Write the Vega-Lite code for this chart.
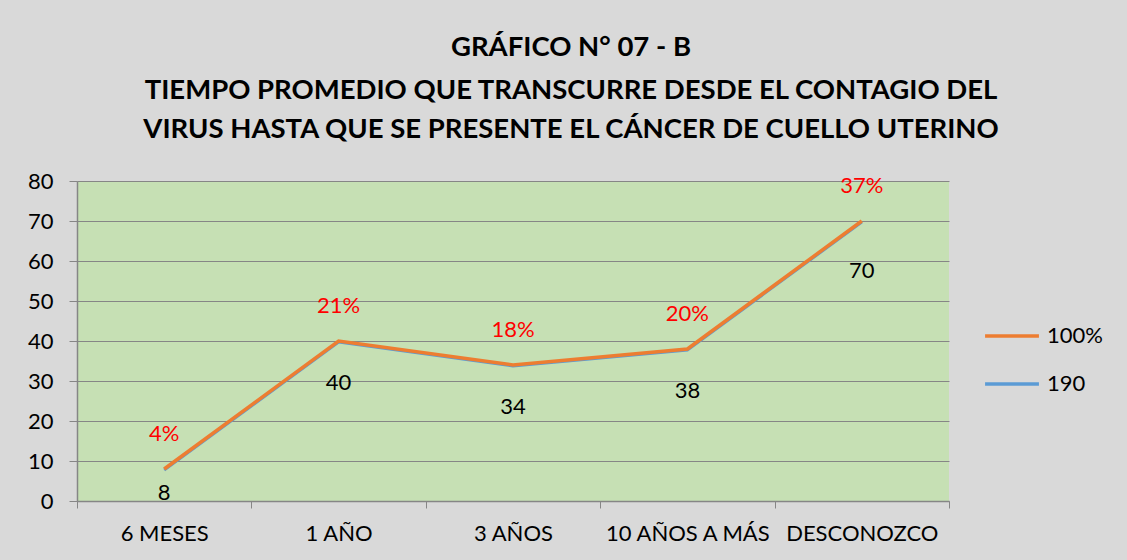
{
  "$schema": "https://vega.github.io/schema/vega-lite/v6.json",
  "autosize": {"type": "none"},
  "width": 872,
  "height": 320,
  "padding": {"left": 77, "top": 181, "right": 178, "bottom": 59},
  "background": "#d9d9d9",
  "title": {
    "text": "GRÁFICO N° 07 - B",
    "subtitle": ["TIEMPO PROMEDIO QUE TRANSCURRE DESDE EL CONTAGIO DEL", "VIRUS HASTA QUE SE PRESENTE EL CÁNCER DE CUELLO UTERINO"],
    "anchor": "middle",
    "frame": "group",
    "dx": 58,
    "offset": 27,
    "font": "Lato",
    "fontSize": 27.5,
    "fontWeight": "bold",
    "color": "#000000",
    "subtitleFont": "Lato",
    "subtitleFontSize": 27.5,
    "subtitleFontWeight": "bold",
    "subtitleColor": "#000000",
    "subtitleLineHeight": 39,
    "subtitlePadding": 15
  },
  "data": {
    "values": [
      {"cat": "6 MESES", "series": "190", "value": 8, "pct": "4%"},
      {"cat": "1 AÑO", "series": "190", "value": 40, "pct": "21%"},
      {"cat": "3 AÑOS", "series": "190", "value": 34, "pct": "18%"},
      {"cat": "10 AÑOS A MÁS", "series": "190", "value": 38, "pct": "20%"},
      {"cat": "DESCONOZCO", "series": "190", "value": 70, "pct": "37%"},
      {"cat": "6 MESES", "series": "100%", "value": 8, "pct": "4%"},
      {"cat": "1 AÑO", "series": "100%", "value": 40, "pct": "21%"},
      {"cat": "3 AÑOS", "series": "100%", "value": 34, "pct": "18%"},
      {"cat": "10 AÑOS A MÁS", "series": "100%", "value": 38, "pct": "20%"},
      {"cat": "DESCONOZCO", "series": "100%", "value": 70, "pct": "37%"}
    ]
  },
  "config": {
    "view": {"fill": "#c6e0b4", "stroke": null},
    "font": "Lato"
  },
  "encoding": {
    "x": {
      "field": "cat",
      "type": "nominal",
      "sort": null,
      "title": null,
      "scale": {"paddingInner": 0, "paddingOuter": 0},
      "axis": {
        "labelAngle": 0,
        "labelFont": "Lato",
        "labelFontSize": 22,
        "labelColor": "#000000",
        "labelPadding": 15,
        "tickBand": "extent",
        "tickSize": 7,
        "tickColor": "#868686",
        "domainColor": "#868686",
        "domainWidth": 1.5,
        "grid": false
      }
    },
    "y": {
      "field": "value",
      "type": "quantitative",
      "title": null,
      "scale": {"domain": [0, 80], "nice": false},
      "axis": {
        "values": [0, 10, 20, 30, 40, 50, 60, 70, 80],
        "labelFont": "Lato",
        "labelFontSize": 22,
        "labelColor": "#000000",
        "labelPadding": 16,
        "tickSize": 8,
        "tickColor": "#868686",
        "domainColor": "#868686",
        "domainWidth": 1.5,
        "gridColor": "#868686",
        "gridWidth": 1.2
      }
    }
  },
  "layer": [
    {
      "transform": [{"filter": "datum.series === '190'"}],
      "mark": {"type": "line", "strokeWidth": 3, "yOffset": 1},
      "encoding": {
        "color": {
          "field": "series",
          "type": "nominal",
          "scale": {"domain": ["100%", "190"], "range": ["#ed7d31", "#5b9bd5"]},
          "legend": {
            "title": null,
            "orient": "none",
            "legendX": 906,
            "legendY": 126,
            "symbolType": "stroke",
            "symbolSize": 2900,
            "symbolStrokeWidth": 3.5,
            "labelFont": "Lato",
            "labelFontSize": 22,
            "labelColor": "#000000",
            "labelOffset": 6,
            "rowPadding": 8
          }
        }
      }
    },
    {
      "transform": [{"filter": "datum.series === '100%'"}],
      "mark": {"type": "line", "strokeWidth": 3.5},
      "encoding": {
        "color": {"field": "series", "type": "nominal"}
      }
    },
    {
      "transform": [{"filter": "datum.series === '100%'"}],
      "mark": {"type": "text", "dy": -35, "fontSize": 22, "font": "Lato", "color": "#ff0000"},
      "encoding": {"text": {"field": "pct"}}
    },
    {
      "transform": [{"filter": "datum.series === '100%' && datum.cat !== '6 MESES' && datum.cat !== 'DESCONOZCO'"}],
      "mark": {"type": "text", "dy": 42, "fontSize": 22, "font": "Lato", "color": "#000000"},
      "encoding": {"text": {"field": "value", "type": "quantitative"}}
    },
    {
      "transform": [{"filter": "datum.series === '100%' && datum.cat === 'DESCONOZCO'"}],
      "mark": {"type": "text", "dy": 50, "fontSize": 22, "font": "Lato", "color": "#000000"},
      "encoding": {"text": {"field": "value", "type": "quantitative"}}
    },
    {
      "transform": [{"filter": "datum.series === '100%' && datum.cat === '6 MESES'"}],
      "mark": {"type": "text", "dy": 24, "fontSize": 22, "font": "Lato", "color": "#000000"},
      "encoding": {"text": {"field": "value", "type": "quantitative"}}
    }
  ]
}
